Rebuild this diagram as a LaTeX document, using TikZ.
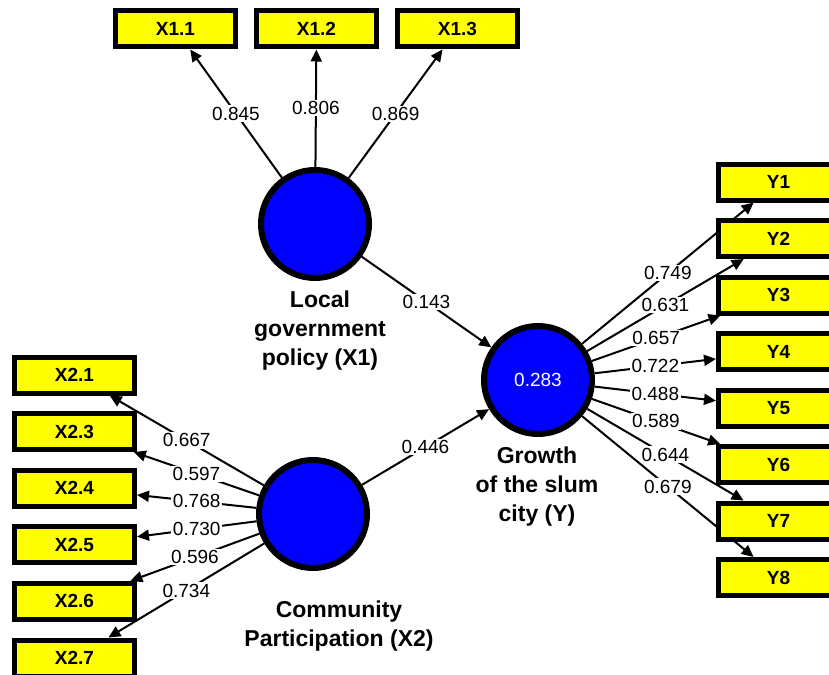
\documentclass[tikz,border=0pt]{standalone}
\usepackage{fontspec}
\setmainfont{Liberation Sans}
\usetikzlibrary{arrows.meta}
\definecolor{pathblue}{RGB}{0,0,255}
\definecolor{itemyellow}{RGB}{255,255,0}
\pgfdeclarelayer{bg}
\pgfsetlayers{bg,main}

\begin{document}
\begin{tikzpicture}[x=1pt, y=-1pt,
  latent/.style={circle, draw=black, fill=pathblue, line width=6pt,
    minimum size=108pt, inner sep=0pt, text=white,
    font=\fontsize{19}{22}\selectfont},
  item/.style={rectangle, draw=black, fill=itemyellow, line width=5pt,
    minimum width=120pt, minimum height=36pt, inner sep=0pt,
    font=\bfseries\fontsize{19}{21}\selectfont},
  caption/.style={align=center, font=\bfseries\fontsize{23}{29}\selectfont},
  load/.style={-{Triangle[length=12pt,width=11pt]}, line width=2pt},
  coef/.style={fill=white, inner sep=1.5pt, font=\fontsize{19}{21}\selectfont}]
  \useasboundingbox (0,0) rectangle (829,674);

  \node[latent] (policy) at (315,224) {};
  \node[latent] (participation) at (313,514) {};
  \node[latent] (growth) at (538,380) {0.283};

  \node[caption] (policytext) at (320,331) {Local\\government\\policy (X1)};
  \node[caption] (growthtext) at (537,487) {Growth\\of the slum\\city (Y)};
  \node[caption] (participationtext) at (339,626) {Community\\Participation (X2)};

  \node[item] (x11) at (175.5,29) {X1.1};
  \node[item] (x12) at (316.5,29) {X1.2};
  \node[item] (x13) at (457.5,29) {X1.3};

  \node[item] (x21) at (74.5,375) {X2.1};
  \node[item] (x23) at (74.5,431.6) {X2.3};
  \node[item] (x24) at (74.5,488.2) {X2.4};
  \node[item] (x25) at (74.5,544.8) {X2.5};
  \node[item] (x26) at (74.5,601.4) {X2.6};
  \node[item] (x27) at (74.5,658) {X2.7};

  \node[item] (y1) at (778.5,182) {Y1};
  \node[item] (y2) at (778.5,238.5) {Y2};
  \node[item] (y3) at (778.5,295) {Y3};
  \node[item] (y4) at (778.5,351.5) {Y4};
  \node[item] (y5) at (778.5,408) {Y5};
  \node[item] (y6) at (778.5,464.5) {Y6};
  \node[item] (y7) at (778.5,521) {Y7};
  \node[item] (y8) at (778.5,577.5) {Y8};

  \begin{pgfonlayer}{bg}
  \draw[load] (policy) -- node[coef] {0.845} (x11);
  \draw[load] (policy) -- node[coef] {0.806} (x12);
  \draw[load] (policy) -- node[coef] {0.869} (x13);

  \draw[load] (participation) -- node[coef] {0.667} (x21);
  \draw[load] (participation) -- node[coef] {0.597} (x23);
  \draw[load] (participation) -- node[coef] {0.768} (x24);
  \draw[load] (participation) -- node[coef] {0.730} (x25);
  \draw[load] (participation) -- node[coef] {0.596} (x26);
  \draw[load] (participation) -- node[coef] {0.734} (x27);

  \draw[load] (growth) -- node[coef] {0.749} (y1);
  \draw[load] (growth) -- node[coef] {0.631} (y2);
  \draw[load] (growth) -- node[coef] {0.657} (y3);
  \draw[load] (growth) -- node[coef] {0.722} (y4);
  \draw[load] (growth) -- node[coef] {0.488} (y5);
  \draw[load] (growth) -- node[coef] {0.589} (y6);
  \draw[load] (growth) -- node[coef] {0.644} (y7);
  \draw[load] (growth) -- node[coef] {0.679} (y8);

  \draw[load] (policy) -- node[coef] {0.143} (growth);
  \draw[load] (participation) -- node[coef] {0.446} (growth);
  \end{pgfonlayer}
\end{tikzpicture}
\end{document}
